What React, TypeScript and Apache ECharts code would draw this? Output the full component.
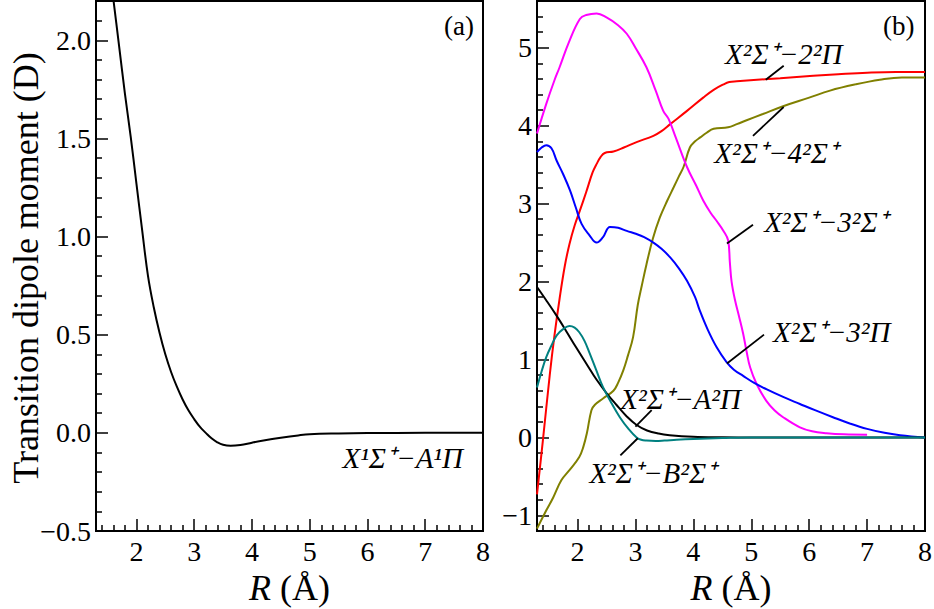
import React, { useEffect, useRef } from 'react';
import * as echarts from 'echarts';

// ---------- data ----------
// Panel (a): X1Σ+ − A1Π
const aR = [1.55, 1.6, 1.7, 1.8, 1.9, 2.0, 2.1, 2.2, 2.3, 2.4, 2.5, 2.6, 2.7, 2.8, 2.9, 3.0, 3.1, 3.2, 3.3, 3.4, 3.5, 3.63, 3.8, 4.0, 4.2, 4.5, 4.8, 5.0, 5.5, 6.0, 7.0, 8.0];
const aD = [2.32, 2.21, 1.97, 1.73, 1.51, 1.27, 1.03, 0.8, 0.64, 0.51, 0.40, 0.31, 0.235, 0.17, 0.115, 0.07, 0.03, 0.0, -0.028, -0.048, -0.061, -0.066, -0.062, -0.05, -0.039, -0.025, -0.013, -0.007, -0.003, -0.001, 0, 0];

// Panel (b)
const r2PiR = [1.3, 1.4, 1.52, 1.6, 1.69, 1.78, 1.86, 1.95, 2.04, 2.15, 2.26, 2.33, 2.4, 2.47, 2.62, 2.8, 3.02, 3.31, 3.45, 3.6, 3.89, 4.17, 4.35, 4.52, 4.62, 4.75, 5.1, 5.5, 6.07, 6.5, 7.0, 7.5, 8.0];
const r2PiD = [-0.73, -0.05, 0.8, 1.3, 1.78, 2.2, 2.48, 2.72, 2.91, 3.15, 3.4, 3.51, 3.6, 3.65, 3.67, 3.72, 3.79, 3.87, 3.93, 4.02, 4.19, 4.36, 4.46, 4.53, 4.56, 4.57, 4.59, 4.61, 4.64, 4.66, 4.68, 4.69, 4.69];

const s3R = [1.3, 1.46, 1.6, 1.69, 1.85, 2.04, 2.15, 2.33, 2.5, 2.7, 2.85, 3.0, 3.19, 3.35, 3.48, 3.57, 3.7, 3.89, 4.05, 4.17, 4.3, 4.4, 4.52, 4.6, 4.63, 4.66, 4.72, 4.79, 4.86, 4.92, 4.98, 5.09, 5.26, 5.4, 5.55, 5.84, 6.05, 6.3, 6.6, 7.0];
const s3D = [3.9, 4.28, 4.58, 4.75, 5.07, 5.37, 5.42, 5.44, 5.39, 5.29, 5.18, 5.0, 4.75, 4.45, 4.19, 4.09, 3.84, 3.47, 3.23, 3.04, 2.88, 2.78, 2.65, 2.53, 2.25, 2.0, 1.76, 1.55, 1.33, 1.1, 0.9, 0.69, 0.47, 0.35, 0.26, 0.13, 0.08, 0.055, 0.04, 0.035];

const p3R = [1.3, 1.38, 1.46, 1.55, 1.64, 1.75, 1.87, 1.97, 2.07, 2.2, 2.33, 2.44, 2.56, 2.7, 2.85, 3.02, 3.15, 3.31, 3.45, 3.6, 3.75, 3.89, 4.03, 4.11, 4.25, 4.4, 4.57, 4.7, 4.86, 5.05, 5.26, 5.55, 5.84, 6.1, 6.41, 6.7, 7.0, 7.3, 7.57, 8.0];
const p3D = [3.66, 3.72, 3.75, 3.71, 3.55, 3.38, 3.17, 2.95, 2.74, 2.6, 2.5, 2.57, 2.7, 2.69, 2.65, 2.61, 2.57, 2.5, 2.42, 2.31, 2.17, 2.01, 1.8, 1.63, 1.38, 1.16, 0.97, 0.87, 0.79, 0.7, 0.62, 0.52, 0.43, 0.35, 0.26, 0.18, 0.11, 0.06, 0.03, 0.0];

const s4R = [1.3, 1.45, 1.58, 1.72, 1.86, 2.03, 2.1, 2.16, 2.24, 2.3, 2.44, 2.62, 2.7, 2.79, 2.87, 2.96, 3.04, 3.11, 3.19, 3.3, 3.42, 3.55, 3.66, 3.75, 3.83, 3.94, 4.03, 4.12, 4.23, 4.35, 4.6, 4.75, 4.92, 5.2, 5.55, 6.0, 6.36, 6.8, 7.22, 7.6, 8.0];
const s4D = [-1.17, -0.95, -0.77, -0.55, -0.42, -0.25, -0.12, 0.05, 0.35, 0.42, 0.5, 0.6, 0.7, 0.86, 1.05, 1.29, 1.7, 1.95, 2.22, 2.55, 2.82, 3.04, 3.21, 3.35, 3.47, 3.72, 3.8, 3.85, 3.91, 3.96, 3.98, 4.02, 4.07, 4.15, 4.25, 4.36, 4.45, 4.53, 4.59, 4.62, 4.62];

const aPiR = [1.3, 1.45, 1.64, 1.8, 1.98, 2.15, 2.33, 2.5, 2.67, 2.85, 3.02, 3.2, 3.4, 3.59, 4.0, 4.5, 5.0, 6.0, 7.0, 8.0];
const aPiD = [1.93, 1.77, 1.56, 1.37, 1.15, 0.95, 0.74, 0.57, 0.42, 0.27, 0.16, 0.09, 0.05, 0.03, 0.01, 0.003, 0, 0, 0, 0];

const bSR = [1.3, 1.38, 1.46, 1.55, 1.64, 1.75, 1.86, 1.95, 2.03, 2.12, 2.21, 2.32, 2.44, 2.58, 2.73, 2.88, 3.02, 3.1, 3.19, 3.35, 3.5, 3.71, 4.0, 4.5, 5.0, 6.0, 7.0, 8.0];
const bSD = [0.64, 0.85, 1.03, 1.18, 1.31, 1.39, 1.43, 1.41, 1.35, 1.24, 1.08, 0.87, 0.645, 0.45, 0.26, 0.11, 0.0, -0.03, -0.04, -0.045, -0.04, -0.03, -0.02, -0.008, 0, 0, 0, 0];

// ticks
const xMajor = [2, 3, 4, 5, 6, 7, 8];
const xMinor = [1.4, 1.6, 1.8, 2.2, 2.4, 2.6, 2.8, 3.2, 3.4, 3.6, 3.8, 4.2, 4.4, 4.6, 4.8, 5.2, 5.4, 5.6, 5.8, 6.2, 6.4, 6.6, 6.8, 7.2, 7.4, 7.6, 7.8];
const yAMajor = [-0.5, 0, 0.5, 1.0, 1.5, 2.0];
const yAMinor = [-0.4, -0.3, -0.2, -0.1, 0.1, 0.2, 0.3, 0.4, 0.6, 0.7, 0.8, 0.9, 1.1, 1.2, 1.3, 1.4, 1.6, 1.7, 1.8, 1.9, 2.1];
const yBMajor = [-1, 0, 1, 2, 3, 4, 5];
const yBMinor = [-0.8, -0.6, -0.4, -0.2, 0.2, 0.4, 0.6, 0.8, 1.2, 1.4, 1.6, 1.8, 2.2, 2.4, 2.6, 2.8, 3.2, 3.4, 3.6, 3.8, 4.2, 4.4, 4.6, 4.8, 5.2, 5.4];

// texts
const yTitle = 'Transition dipole moment (D)';
const labelA = 'X¹Σ⁺−A¹Π';
const labelAPos = [6.61, -0.128];
const labels = ['X²Σ⁺−2²Π', 'X²Σ⁺−4²Σ⁺', 'X²Σ⁺−3²Σ⁺', 'X²Σ⁺−3²Π', 'X²Σ⁺−A²Π', 'X²Σ⁺−B²Σ⁺'];
const labelPos = [[5.56, 4.92], [5.43, 3.65], [6.29, 2.76], [6.39, 1.35], [3.78, 0.49], [3.3, -0.45]];
const leaders = [
  [[5.25, 4.59], [5.56, 4.77]],
  [[5.56, 4.24], [5.03, 3.87]],
  [[4.58, 2.49], [5.03, 2.73]],
  [[4.58, 0.95], [5.22, 1.32]],
  [[3.0, 0.14], [3.28, 0.35]],
  [[3.04, -0.01], [2.74, -0.23]],
];

const FONT = 'Liberation Serif';
const zip = (a: number[], b: number[]) => a.map((x, i) => [x, b[i]]);
const minus = (s: string) => s.replace('-', '−');

function xAxes(gridIndex: number) {
  return [
    {
      type: 'value', gridIndex, position: 'bottom', min: 1.3, max: 8,
      axisLine: { show: true, onZero: false, lineStyle: { color: '#000', width: 2 } },
      axisTick: { show: true, inside: true, length: 12, lineStyle: { color: '#000', width: 1.5 }, customValues: xMajor },
      axisLabel: { show: true, customValues: xMajor, color: '#000', fontFamily: FONT, fontSize: 28, margin: 6 },
      splitLine: { show: false },
      name: '{i|R} (Å)', nameLocation: 'middle', nameGap: 32,
      nameTextStyle: { color: '#000', fontFamily: FONT, fontSize: 36, rich: { i: { fontStyle: 'italic', fontFamily: FONT, fontSize: 36, color: '#000' } } },
    },
    {
      type: 'value', gridIndex, position: 'bottom', min: 1.3, max: 8,
      axisLine: { show: false, onZero: false },
      axisTick: { show: true, inside: true, length: 6, lineStyle: { color: '#000', width: 1.5 }, customValues: xMinor },
      axisLabel: { show: false },
      splitLine: { show: false },
    },
  ];
}

function yAxes(gridIndex: number, min: number, max: number, major: number[], minor: number[], fmt: (v: number) => string) {
  return [
    {
      type: 'value', gridIndex, position: 'left', min, max,
      axisLine: { show: true, onZero: false, lineStyle: { color: '#000', width: 2 } },
      axisTick: { show: true, inside: true, length: 12, lineStyle: { color: '#000', width: 1.5 }, customValues: major },
      axisLabel: { show: true, customValues: major, color: '#000', fontFamily: FONT, fontSize: 28, margin: 5, formatter: fmt },
      splitLine: { show: false },
    },
    {
      type: 'value', gridIndex, position: 'left', min, max,
      axisLine: { show: false, onZero: false },
      axisTick: { show: true, inside: true, length: 6, lineStyle: { color: '#000', width: 1.5 }, customValues: minor },
      axisLabel: { show: false },
      splitLine: { show: false },
    },
  ];
}

const annLabel = (text: string, coord: number[]) => ({
  coord,
  symbol: 'circle',
  symbolSize: 0,
  label: {
    show: true, position: 'inside', formatter: text, color: '#000',
    fontFamily: FONT, fontStyle: 'italic', fontSize: 29,
  },
});

function line(name: string, data: number[][], color: string, xi: number, yi: number, extra: any = {}) {
  return {
    type: 'line', name, data, xAxisIndex: xi, yAxisIndex: yi,
    showSymbol: false, symbol: 'none', smooth: 0.4, silent: true,
    lineStyle: { color, width: 2 }, itemStyle: { color },
    ...extra,
  };
}

function ann(i: number) {
  return {
    markPoint: { silent: true, data: [annLabel(labels[i], labelPos[i])] },
    markLine: {
      silent: true, symbol: 'none', label: { show: false },
      lineStyle: { color: '#000', width: 1.8, type: 'solid' },
      data: [[{ coord: leaders[i][0] }, { coord: leaders[i][1] }]],
    },
  };
}

export default function App() {
  const ref = useRef<HTMLDivElement>(null);
  useEffect(() => {
    const chart = echarts.init(ref.current!, null, { renderer: 'svg' });
    const fmtA = (v: number) => minus(v.toFixed(1));
    const fmtB = (v: number) => minus(String(v));
    chart.setOption({
      animation: false,
      backgroundColor: '#fff',
      grid: [
        { left: 96, top: 1, width: 387, height: 530, show: true, borderColor: '#000', borderWidth: 2, backgroundColor: 'transparent', outerBoundsMode: 'none' },
        { left: 537, top: 1, width: 388, height: 530, show: true, borderColor: '#000', borderWidth: 2, backgroundColor: 'transparent', outerBoundsMode: 'none' },
      ],
      xAxis: [...xAxes(0), ...xAxes(1)],
      yAxis: [
        ...yAxes(0, -0.5, 2.2, yAMajor, yAMinor, fmtA),
        ...yAxes(1, -1.2, 5.6, yBMajor, yBMinor, fmtB),
      ],
      graphic: [
        { type: 'text', x: 26, y: 268, rotation: Math.PI / 2, style: { text: yTitle, fontFamily: FONT, fontSize: 36, fill: '#000', align: 'center', verticalAlign: 'middle' } },
        { type: 'text', left: 444, top: 12, style: { text: '(a)', fontFamily: FONT, fontSize: 27, fill: '#000' } },
        { type: 'text', left: 883, top: 12, style: { text: '(b)', fontFamily: FONT, fontSize: 27, fill: '#000' } },
      ],
      series: [
        line(labelA, zip(aR, aD), '#000', 0, 0, {
          markPoint: { silent: true, data: [annLabel(labelA, labelAPos)] },
        }),
        line(labels[0], zip(r2PiR, r2PiD), '#ff0000', 2, 2, ann(0)),
        line(labels[1], zip(s4R, s4D), '#808000', 2, 2, ann(1)),
        line(labels[2], zip(s3R, s3D), '#ff00ff', 2, 2, ann(2)),
        line(labels[3], zip(p3R, p3D), '#0000ff', 2, 2, ann(3)),
        line(labels[4], zip(aPiR, aPiD), '#000', 2, 2, ann(4)),
        line(labels[5], zip(bSR, bSD), '#008080', 2, 2, ann(5)),
      ],
    });
    return () => chart.dispose();
  }, []);
  return <div ref={ref} style={{ position: 'fixed', left: 0, top: 0, width: 934, height: 609, background: '#fff' }} />;
}
